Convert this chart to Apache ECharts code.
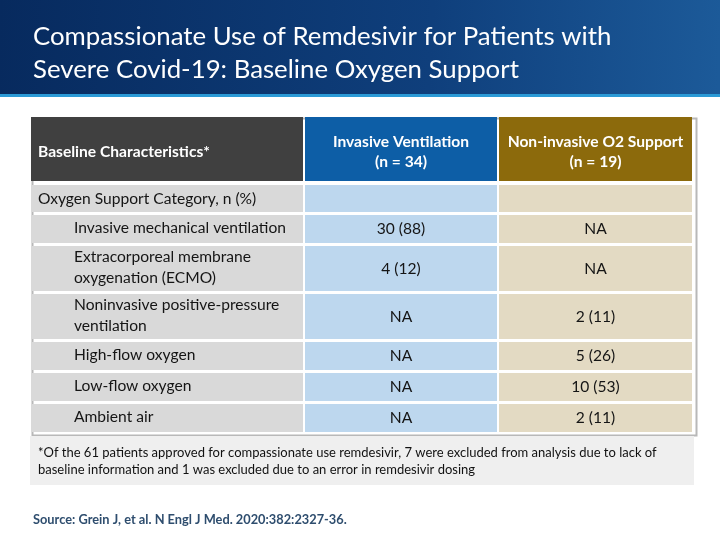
<!DOCTYPE html>
<html><head><meta charset="utf-8">
<script src="https://cdn.jsdelivr.net/npm/echarts@6/dist/echarts.min.js"></script>
<style>html,body{margin:0;padding:0;background:#fff}#c{width:720px;height:540px}</style>
</head><body><div id="c"></div>
<script>
// ---- content ----
const titleLines = ['Compassionate Use of Remdesivir for Patients with', 'Severe Covid-19: Baseline Oxygen Support'];
const columnHeaders = ['Baseline Characteristics*', 'Invasive Ventilation\n(n = 34)', 'Non-invasive O2 Support\n(n = 19)'];
const rowLabels = ['Oxygen Support Category, n (%)', 'Invasive mechanical ventilation', 'Extracorporeal membrane\noxygenation (ECMO)', 'Noninvasive positive-pressure\nventilation', 'High-flow oxygen', 'Low-flow oxygen', 'Ambient air'];
const invasiveValues = ['', '30 (88)', '4 (12)', 'NA', 'NA', 'NA', 'NA'];
const nonInvasiveValues = ['', 'NA', 'NA', '2 (11)', '5 (26)', '10 (53)', '2 (11)'];
const footnoteLines = ['*Of the 61 patients approved for compassionate use remdesivir, 7 were excluded from analysis due to lack of', 'baseline information and 1 was excluded due to an error in remdesivir dosing'];
const sourceText = 'Source: Grein J, et al. N Engl J Med. 2020:382:2327-36.';

// ---- layout (grid units = px inside the table grid) ----
const colEdges = [[0, 272], [274, 466], [468, 661]];
const rowEdges = [[0, 64], [68, 95], [98, 126], [129, 174], [177, 222], [225, 253], [256, 284], [287, 315]];
const headFill = ['#404040', '#0d5ea6', '#8c6a0c'];
const bodyFill = ['#d9d9d9', '#bdd7ee', '#e3dac3'];
const FONT = 'Lato, "Open Sans", sans-serif';

const cells = [];
for (let r = 0; r < rowEdges.length; r++) for (let c = 0; c < 3; c++) cells.push([c, r]);

function cellText(c, r) {
  if (r === 0) return columnHeaders[c];
  const i = r - 1;
  if (c === 0) return rowLabels[i];
  if (c === 1) return invasiveValues[i];
  return nonInvasiveValues[i];
}

const chart = echarts.init(document.getElementById('c'), null, {renderer: 'canvas'});
chart.setOption({
  animation: false,
  backgroundColor: '#ffffff',
  graphic: [
    {type: 'rect', left: 0, top: 0, z: 0, shape: {width: 720, height: 94},
      style: {fill: new echarts.graphic.LinearGradient(0, 0, 1, 0.3, [{offset: 0, color: '#072a5e'}, {offset: 0.6, color: '#0f3f7c'}, {offset: 1, color: '#1c5a99'}])}},
    {type: 'rect', left: 0, top: 94, z: 0, shape: {width: 720, height: 3}, style: {fill: '#2b9ad6'}},
    {type: 'text', left: 33, top: 20, z: 2, style: {text: titleLines.join('\n'), fill: '#ffffff', font: '25.8px ' + FONT, lineHeight: 33}},
    {type: 'rect', left: 30, top: 116, z: 0, shape: {width: 664, height: 317}, style: {fill: 'none', stroke: '#b8b8b8', lineWidth: 2}},
    {type: 'rect', left: 30, top: 436, z: 0, shape: {width: 664, height: 49}, style: {fill: '#efefef'}},
    {type: 'text', left: 38, top: 444, z: 2, style: {text: footnoteLines.join('\n'), fill: '#111111', font: '13px ' + FONT, lineHeight: 17}},
    {type: 'text', left: 33, top: 513, z: 2, style: {text: sourceText, fill: '#2e4d6e', font: 'bold 12.8px ' + FONT}}
  ],
  grid: {left: 31, top: 117, width: 661, height: 315, containLabel: false},
  xAxis: {type: 'value', min: 0, max: 661, show: false},
  yAxis: {type: 'value', min: 0, max: 315, inverse: true, show: false},
  series: [{
    type: 'custom',
    coordinateSystem: 'cartesian2d',
    data: cells,
    z: 5,
    renderItem: function (params, api) {
      const c = api.value(0), r = api.value(1);
      const p0 = api.coord([colEdges[c][0], rowEdges[r][0]]);
      const p1 = api.coord([colEdges[c][1], rowEdges[r][1]]);
      const w = p1[0] - p0[0], h = p1[1] - p0[1];
      const fill = r === 0 ? headFill[c] : bodyFill[c];
      const txt = cellText(c, r);
      let tx, align, ty = p0[1] + h / 2;
      if (c === 0) {
        align = 'left';
        tx = p0[0] + ((r <= 1) ? 7 : 43);
        if (r >= 2) ty -= 1;
      } else {
        align = 'center';
        tx = p0[0] + w / 2;
      }
      const head = r === 0;
      if (head) ty += 2.5;
      return {
        type: 'group',
        children: [
          {type: 'rect', shape: {x: p0[0], y: p0[1], width: w, height: h}, style: {fill: fill}},
          {type: 'text', style: {x: tx, y: ty, text: txt, align: align, verticalAlign: 'middle',
            fill: head ? '#ffffff' : '#151515', font: (head ? 'bold ' : '') + '15.6px ' + FONT, lineHeight: head ? 20 : 21}}
        ]
      };
    }
  }]
});
</script>
</body></html>
